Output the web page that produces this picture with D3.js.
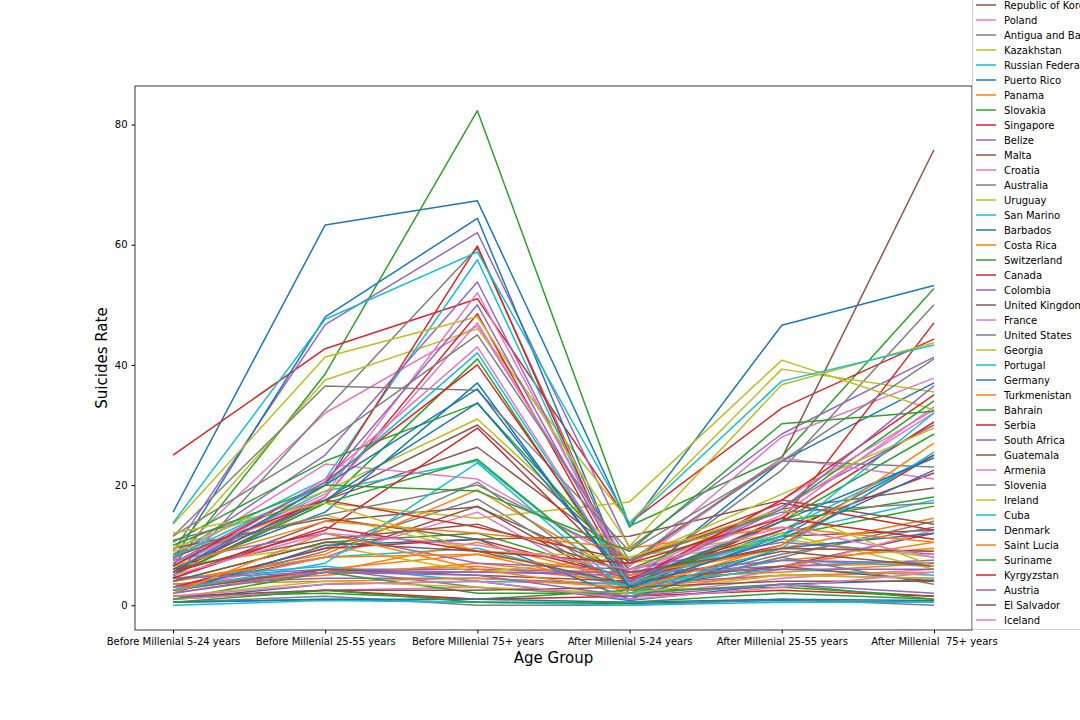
<!DOCTYPE html>
<html>
<head>
<meta charset="utf-8">
<script src="https://cdn.jsdelivr.net/npm/d3@7"></script>
<style>
  body { margin: 0; background: #fff; }
  text { font-family: "DejaVu Sans", sans-serif; }
</style>
</head>
<body>
<svg width="1080" height="720"></svg>
<script>
// x categories
const ageGroups = [
  "Before Millenial 5-24 years",
  "Before Millenial 25-55 years",
  "Before Millenial 75+ years",
  "After Millenial 5-24 years",
  "After Millenial 25-55 years",
  "After Millenial  75+ years"
];

const countries = [
  "Hungary", "Mexico", "Lithuania", "Sri Lanka", "Latvia", "Ukraine", "Estonia", "Belgium", "Belarus", "Finland",
  "Japan", "Brazil", "Luxembourg", "Romania", "Czech Republic", "Bulgaria", "New Zealand", "Netherlands", "Uzbekistan", "Sweden",
  "Norway", "Argentina", "Chile", "Trinidad and Tobago", "Ecuador", "Israel", "Italy", "Spain", "Mauritius", "Thailand",
  "Greece", "Paraguay", "Philippines", "Kuwait", "Albania",
  "Guyana", "Cyprus", "Aruba", "Mongolia", "Fiji", "Jamaica", "Turkey", "Grenada", "Montenegro", "Seychelles",
  "Republic of Korea", "Poland", "Antigua and Barbuda", "Kazakhstan", "Russian Federation", "Puerto Rico", "Panama",
  "Slovakia", "Singapore", "Belize", "Malta", "Croatia", "Australia", "Uruguay", "San Marino", "Barbados",
  "Costa Rica", "Switzerland", "Canada", "Colombia", "United Kingdom", "France", "United States", "Georgia",
  "Portugal", "Germany", "Turkmenistan", "Bahrain", "Serbia", "South Africa", "Guatemala", "Armenia",
  "Slovenia", "Ireland", "Cuba", "Denmark", "Saint Lucia", "Suriname", "Kyrgyzstan", "Austria",
  "El Salvador", "Iceland"
];

// suicides rate per country, one value per age group
const rates = [
  [15.5, 63.3, 67.3, 13.0, 46.6, 53.2],
  [3.5, 5.5, 6.5, 3.8, 6.5, 7.0],
  [6.5, 38.5, 82.3, 13.2, 24.7, 52.7],
  [25.0, 42.7, 51.0, 13.7, 32.8, 44.3],
  [9.0, 46.7, 62.0, 9.5, 28.5, 41.3],
  [10.8, 17.5, 26.3, 7.5, 16.0, 19.5],
  [8.0, 32.0, 46.5, 6.5, 28.0, 37.8],
  [4.5, 32.5, 59.5, 4.0, 22.5, 50.0],
  [9.0, 37.5, 46.0, 13.8, 39.3, 35.5],
  [8.5, 21.0, 57.5, 3.0, 12.5, 25.0],
  [7.5, 48.0, 64.4, 3.5, 24.0, 37.0],
  [2.5, 6.0, 8.5, 3.0, 7.5, 9.5],
  [5.0, 17.0, 41.0, 3.0, 14.0, 28.5],
  [5.0, 20.0, 59.8, 2.5, 14.0, 47.0],
  [8.0, 25.0, 53.8, 4.0, 16.5, 30.0],
  [4.5, 14.0, 16.4, 5.0, 11.5, 12.5],
  [7.0, 18.5, 52.0, 5.0, 15.0, 33.0],
  [3.0, 9.5, 17.7, 2.5, 8.5, 13.0],
  [8.0, 17.0, 14.5, 17.2, 40.8, 32.5],
  [6.5, 19.0, 24.0, 3.5, 12.0, 17.5],
  [6.0, 15.5, 37.0, 2.5, 11.5, 25.0],
  [4.0, 8.5, 19.2, 4.5, 9.5, 14.5],
  [4.0, 10.5, 12.0, 4.5, 11.5, 16.5],
  [5.5, 18.0, 48.5, 3.2, 14.5, 30.5],
  [4.5, 6.0, 6.0, 5.5, 6.5, 7.5],
  [3.0, 8.0, 16.5, 2.5, 6.5, 12.0],
  [2.5, 8.0, 15.5, 1.5, 6.0, 12.5],
  [2.5, 9.0, 20.5, 2.0, 8.0, 14.0],
  [9.0, 15.0, 9.0, 7.0, 11.0, 8.0],
  [4.0, 8.0, 9.5, 3.0, 7.5, 6.5],
  [1.0, 3.5, 4.0, 0.8, 3.5, 4.2],
  [3.5, 5.0, 7.0, 4.5, 5.5, 7.0],
  [1.5, 2.0, 1.0, 2.5, 3.0, 1.5],
  [1.0, 2.5, 1.0, 1.5, 2.5, 1.5],
  [3.5, 4.5, 4.5, 3.5, 5.0, 4.5],
  [9.5, 14.5, 11.0, 11.5, 17.5, 13.5],
  [1.0, 2.5, 3.0, 1.5, 4.5, 6.0],
  [2.0, 6.0, 3.0, 1.5, 8.0, 3.5],
  [6.5, 10.0, 5.5, 8.0, 12.0, 6.0],
  [4.5, 6.5, 4.0, 3.5, 6.0, 5.0],
  [0.5, 1.0, 0.5, 0.3, 0.8, 0.5],
  [3.5, 4.0, 4.5, 3.0, 5.0, 5.5],
  [1.0, 5.5, 2.0, 2.0, 3.5, 1.0],
  [3.0, 9.5, 11.0, 4.5, 12.5, 22.0],
  [7.5, 12.0, 7.0, 6.0, 10.5, 8.5],
  [5.0, 17.5, 30.0, 7.0, 24.5, 75.8],
  [7.5, 23.5, 21.0, 6.5, 24.5, 21.0],
  [0.5, 1.5, 0.0, 0.0, 1.0, 0.0],
  [13.5, 41.3, 48.0, 9.8, 36.7, 43.7],
  [13.7, 47.6, 58.8, 13.6, 37.3, 43.3],
  [2.0, 10.0, 11.0, 1.0, 9.5, 12.0],
  [3.0, 5.5, 10.5, 4.0, 6.5, 10.5],
  [5.0, 17.0, 24.3, 3.5, 14.0, 18.0],
  [5.5, 12.5, 29.5, 4.5, 10.0, 25.0],
  [3.0, 6.0, 5.5, 5.0, 7.5, 7.0],
  [2.5, 6.0, 5.0, 4.0, 6.5, 4.0],
  [7.0, 18.0, 47.0, 5.5, 16.0, 32.0],
  [11.5, 36.5, 35.8, 9.0, 24.0, 23.0],
  [9.5, 19.0, 31.0, 7.5, 18.5, 29.5],
  [0.0, 0.8, 0.5, 0.0, 0.5, 0.5],
  [0.5, 1.0, 1.0, 0.5, 1.0, 0.8],
  [4.0, 8.0, 8.5, 5.0, 9.5, 9.0],
  [10.5, 24.0, 33.6, 6.0, 16.0, 34.0],
  [8.0, 17.5, 13.0, 7.5, 17.0, 12.5],
  [4.5, 5.5, 5.5, 5.5, 6.0, 6.0],
  [4.0, 10.5, 9.0, 3.5, 9.0, 6.5],
  [5.5, 21.0, 43.0, 3.5, 17.5, 32.5],
  [8.5, 15.0, 20.0, 7.5, 15.5, 17.0],
  [1.5, 4.0, 3.0, 2.0, 5.0, 4.5],
  [2.5, 7.0, 23.7, 2.0, 9.5, 25.5],
  [6.0, 17.5, 33.7, 4.0, 14.0, 24.5],
  [6.5, 14.0, 12.0, 9.5, 13.0, 10.5],
  [0.5, 2.5, 0.5, 0.5, 2.0, 1.0],
  [6.5, 20.5, 40.0, 4.0, 17.5, 35.0],
  [2.0, 5.5, 5.0, 1.5, 3.5, 2.0],
  [1.5, 2.5, 2.5, 3.0, 4.0, 4.0],
  [1.5, 3.5, 4.0, 1.0, 3.0, 5.5],
  [11.5, 27.0, 45.0, 7.5, 24.0, 41.0],
  [12.0, 17.0, 9.0, 8.0, 16.0, 6.5],
  [8.0, 20.0, 42.0, 3.5, 11.5, 32.0],
  [5.5, 20.0, 36.0, 3.0, 11.0, 22.5],
  [2.0, 12.0, 6.0, 2.5, 10.0, 27.0],
  [10.0, 20.0, 19.0, 9.0, 30.2, 32.3],
  [4.5, 13.0, 9.0, 7.0, 14.5, 11.0],
  [7.0, 20.5, 50.0, 4.0, 16.0, 36.5],
  [6.0, 11.0, 13.5, 5.5, 9.5, 9.0],
  [5.0, 12.0, 10.0, 6.0, 13.0, 8.0]
];

const yTicks = [0, 20, 40, 60, 80];

const svg = d3.select("svg");
const margin = { top: 86, right: 108, bottom: 90, left: 135 };
const width = +svg.attr("width");
const height = +svg.attr("height");
const innerRight = width - margin.right;
const innerBottom = height - margin.bottom;

const color = d3.scaleOrdinal(d3.schemeCategory10);

// matplotlib-like auto margins
const yMax = d3.max(rates, r => d3.max(r));
const yMin = d3.min(rates, r => d3.min(r));
const pad = (yMax - yMin) * 0.05;

const xScale = d3.scalePoint().domain(ageGroups).range([margin.left, innerRight]).padding(0.25);
const yScale = d3.scaleLinear().domain([yMin - pad, yMax + pad]).range([innerBottom, margin.top]);

const line = d3.line()
  .x((d, i) => xScale(ageGroups[i]))
  .y(d => yScale(d));

svg.append("g")
  .selectAll("path")
  .data(rates)
  .enter()
  .append("path")
  .attr("d", line)
  .attr("fill", "none")
  .attr("stroke", (d, i) => color(i))
  .attr("stroke-width", 1.5)
  .attr("stroke-linejoin", "round");

// axes
const xAxis = svg.append("g")
  .attr("transform", `translate(0,${innerBottom})`)
  .call(d3.axisBottom(xScale).tickSizeOuter(0).tickSize(3.5).tickPadding(4));
xAxis.selectAll("text").attr("font-size", 10).attr("fill", "#000").style("white-space", "pre");

const yAxis = svg.append("g")
  .attr("transform", `translate(${margin.left},0)`)
  .call(d3.axisLeft(yScale).tickValues(yTicks).tickSizeOuter(0).tickSize(3.5).tickPadding(4));
yAxis.selectAll("text").attr("font-size", 10).attr("fill", "#000");

svg.selectAll(".domain").remove();
svg.append("rect")
  .attr("x", margin.left)
  .attr("y", margin.top)
  .attr("width", innerRight - margin.left)
  .attr("height", innerBottom - margin.top)
  .attr("fill", "none")
  .attr("stroke", "#000")
  .attr("stroke-width", 0.8);

svg.append("text")
  .attr("x", (margin.left + innerRight) / 2)
  .attr("y", 663)
  .attr("text-anchor", "middle")
  .attr("font-size", 15)
  .text("Age Group");

svg.append("text")
  .attr("transform", `translate(107,${(margin.top + innerBottom) / 2}) rotate(-90)`)
  .attr("text-anchor", "middle")
  .attr("font-size", 15)
  .text("Suicides Rate");

// legend, anchored at the bottom right, runs off the top of the figure
const rowH = 15;
const lastY = 620;
const legendX = 972.5;
const legend = svg.append("g");
const n = countries.length;
const topY = lastY - (n - 1) * rowH - 10;

legend.append("rect")
  .attr("x", legendX)
  .attr("y", topY)
  .attr("width", 140)
  .attr("height", 629.5 - topY)
  .attr("rx", 2)
  .attr("fill", "#fff")
  .attr("fill-opacity", 0.8)
  .attr("stroke", "#ccc");

// rows above the figure's top edge would be invisible anyway
const entries = countries
  .map((name, i) => ({ name, i, y: lastY - (n - 1 - i) * rowH }))
  .filter(e => e.y > 0);

const rows = legend.selectAll("g.row")
  .data(entries)
  .enter()
  .append("g")
  .attr("transform", d => `translate(0,${d.y})`);

rows.append("line")
  .attr("x1", 976).attr("x2", 996)
  .attr("stroke", d => color(d.i))
  .attr("stroke-width", 1.5);

rows.append("text")
  .attr("x", 1004)
  .attr("y", 3.7)
  .attr("font-size", 10)
  .text(d => d.name);
</script>
</body>
</html>
